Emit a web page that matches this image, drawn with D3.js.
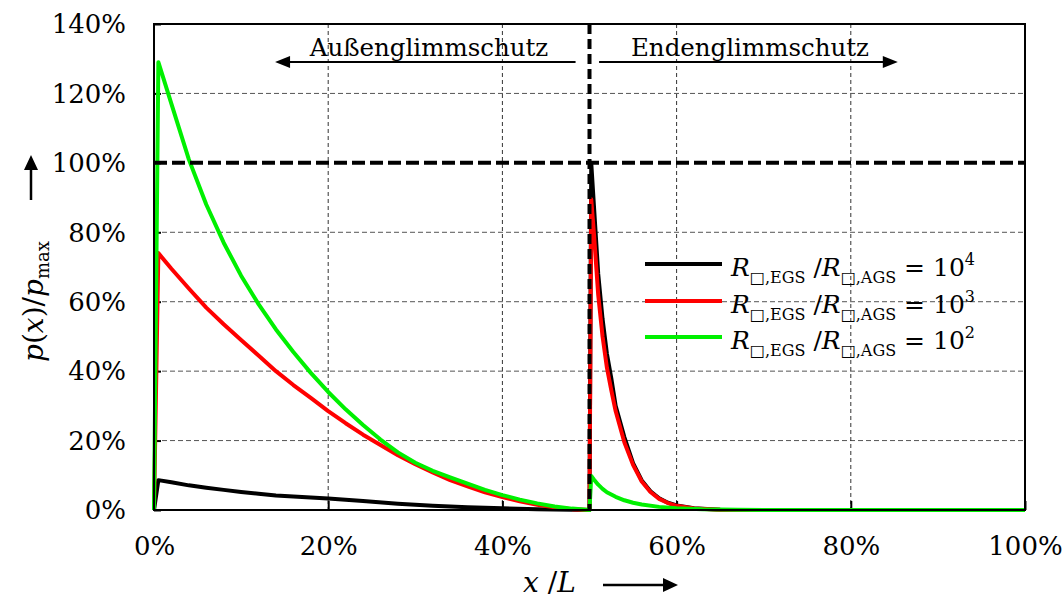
<!DOCTYPE html>
<html><head><meta charset="utf-8">
<script src="https://cdn.jsdelivr.net/npm/d3@7"></script>
<style>
html,body{margin:0;padding:0;background:#fff;}
svg text{font-family:"DejaVu Serif",serif;fill:#000;}
</style></head>
<body><svg id="c" width="1064" height="600"></svg>
<script>
// ---- data ----
const xTicks = [0, 20, 40, 60, 80, 100];
const yTicks = [0, 20, 40, 60, 80, 100, 120, 140];
const xTickLabels = ["0%", "20%", "40%", "60%", "80%", "100%"];
const yTickLabels = ["0%", "20%", "40%", "60%", "80%", "100%", "120%", "140%"];
const seriesNames = ["4", "3", "2"];
const seriesColors = ["#000000", "#ff0000", "#00f000"];
// x in %, p/pmax in %
const black = [[0,0],[0.5,8.6],[2,8],[4,7.1],[6,6.4],[8,5.8],[10,5.2],[12,4.7],[14,4.2],[16,3.9],[18,3.6],[20,3.3],[24,2.6],[28,1.8],[32,1.2],[36,0.8],[40,0.5],[44,0.25],[48,0.08],[50,0],
  [50.2,100],[50.5,88],[51,68],[51.5,55],[52,45],[52.5,38],[53,30],[54,21],[55,13.5],[56,8.5],[57,5.4],[58,3.4],[59,2.1],[60,1.3],[62,0.5],[65,0.1],[70,0],[100,0]];
const red = [[0,0],[0.5,74],[2,69.5],[4,63.8],[6,58.3],[8,53.5],[10,49],[12,44.5],[14,40],[16,36],[18,32.3],[20,28.5],[22,25],[24,21.7],[26,18.7],[28,15.8],[30,13.2],[32,10.8],[34,8.6],[36,6.8],[38,5.1],[40,3.7],[42,2.5],[44,1.5],[46,0.75],[48,0.25],[50,0],
  [50.2,89.5],[50.5,80],[51,62],[51.5,50],[52,41],[52.5,34.5],[53,28.5],[54,19.5],[55,13],[56,8.2],[57,5.2],[58,3.2],[59,2],[60,1.2],[62,0.45],[65,0.1],[70,0],[100,0]];
const green = [[0,0],[0.5,129],[2,117],[4,101],[6,88],[8,77],[10,67.5],[12,59.3],[14,52],[16,45.5],[18,39.5],[20,34],[22,29],[24,24.5],[26,20.3],[28,16.6],[30,13.6],[32,11.3],[34,9.4],[36,7.6],[38,5.8],[40,4.3],[42,3],[44,1.9],[46,1],[48,0.4],[50,0],
  [50.2,9.8],[50.5,8.8],[51,7.3],[51.5,6.1],[52,5.1],[53,3.8],[54,2.8],[55,2.1],[56,1.6],[58,0.9],[60,0.5],[63,0.2],[67,0.05],[70,0],[100,0]];
const series = [black, red, green];
const refX = 50, refY = 100;

// ---- layout ----
const svg = d3.select("#c");
const L = 154, R = 1025, T = 24, B = 510;
const x = d3.scaleLinear().domain([0, 100]).range([L, R]);
const y = d3.scaleLinear().domain([0, 140]).range([B, T]);

// grid
const g = svg.append("g");
g.selectAll(".gy").data(yTicks.filter(v => v > 0 && v < 140 && v !== refY)).enter().append("line")
  .attr("x1", L).attr("x2", R).attr("y1", d => y(d)).attr("y2", d => y(d))
  .attr("stroke", "#555").attr("stroke-width", 1).attr("stroke-dasharray", "5,3");
g.selectAll(".gx").data(xTicks.filter(v => v > 0 && v < 100)).enter().append("line")
  .attr("y1", T).attr("y2", B).attr("x1", d => x(d)).attr("x2", d => x(d))
  .attr("stroke", "#333").attr("stroke-width", 1).attr("stroke-dasharray", "4,3");

// ticks (inward)
const yAxis = d3.axisLeft(y).tickValues(yTicks).tickSize(-7).tickFormat((d, i) => yTickLabels[i]).tickPadding(28);
const xAxis = d3.axisBottom(x).tickValues(xTicks).tickSize(-9).tickFormat((d, i) => xTickLabels[i]).tickPadding(26);
const ya = svg.append("g").attr("transform", `translate(${L},0)`).call(yAxis);
const xa = svg.append("g").attr("transform", `translate(0,${B})`).call(xAxis);
[ya, xa].forEach(a => {
  a.attr("font-family", null).attr("font-size", null);
  a.select(".domain").remove();
  a.selectAll(".tick line").attr("stroke", "#000").attr("stroke-width", 2);
  a.selectAll("text").style("font-size", "26px").attr("fill", "#000");
});
ya.selectAll("text").attr("dy", "0.34em");
xa.selectAll("text").attr("dy", "0.72em");

// curves
const line = d3.line().x(d => x(d[0])).y(d => y(d[1]));
series.forEach((s, i) => {
  svg.append("path").datum(s).attr("d", line).attr("fill", "none")
    .attr("stroke", seriesColors[i]).attr("stroke-width", 4).attr("stroke-linejoin", "round");
});

// reference lines
svg.append("line").attr("x1", L).attr("x2", R).attr("y1", y(refY)).attr("y2", y(refY))
  .attr("stroke", "#000").attr("stroke-width", 4).attr("stroke-dasharray", "13,5");
svg.append("line").attr("x1", x(refX)).attr("x2", x(refX)).attr("y1", T).attr("y2", B)
  .attr("stroke", "#000").attr("stroke-width", 4).attr("stroke-dasharray", "10,5");

// frame
svg.append("rect").attr("x", L).attr("y", T).attr("width", R - L).attr("height", B - T)
  .attr("fill", "none").attr("stroke", "#000").attr("stroke-width", 2);

// region annotations
const ay = 62;
svg.append("line").attr("x1", x(48.4)).attr("x2", x(15)).attr("y1", ay).attr("y2", ay).attr("stroke", "#000").attr("stroke-width", 2);
svg.append("path").attr("d", `M${x(13.9)},${ay} l15,-6 l0,12 z`).attr("fill", "#000");
svg.append("line").attr("x1", x(51.1)).attr("x2", x(84.5)).attr("y1", ay).attr("y2", ay).attr("stroke", "#000").attr("stroke-width", 2);
svg.append("path").attr("d", `M${x(85.4)},${ay} l-15,-6 l0,12 z`).attr("fill", "#000");
svg.append("text").attr("x", 429).attr("y", 56).attr("text-anchor", "middle").style("font-size", "24.5px").text("Außenglimmschutz");
svg.append("text").attr("x", 750).attr("y", 56).attr("text-anchor", "middle").style("font-size", "24.5px").text("Endenglimmschutz");

// legend
const lg = svg.append("g");
const ly = [264, 301, 337];
seriesNames.forEach((n, i) => {
  lg.append("line").attr("x1", 645).attr("x2", 722).attr("y1", ly[i]).attr("y2", ly[i])
    .attr("stroke", seriesColors[i]).attr("stroke-width", 4);
  const t = lg.append("text").attr("x", 731).attr("y", ly[i] + 12).style("font-size", "25px");
  t.append("tspan").style("font-style", "italic").text("R");
  t.append("tspan").style("font-size", "16px").attr("dy", 7).text("□,EGS");
  t.append("tspan").attr("dy", -7).text(" /");
  t.append("tspan").style("font-style", "italic").text("R");
  t.append("tspan").style("font-size", "16px").attr("dy", 7).text("□,AGS");
  t.append("tspan").attr("dy", -7).text(" = 10");
  t.append("tspan").style("font-size", "16px").attr("dy", -11).text(n);
});

// x axis title
const xt = svg.append("text").attr("x", 523).attr("y", 592).style("font-size", "28px");
xt.append("tspan").style("font-style", "italic").text("x");
xt.append("tspan").text(" /");
xt.append("tspan").style("font-style", "italic").text("L");
svg.append("line").attr("x1", 603).attr("x2", 664).attr("y1", 585).attr("y2", 585).attr("stroke", "#000").attr("stroke-width", 2.5);
svg.append("path").attr("d", `M678,585 l-15,-7 l0,14 z`).attr("fill", "#000");

// y axis title
const yt = svg.append("text").attr("transform", "translate(43,362) rotate(-90)").style("font-size", "28px");
yt.append("tspan").style("font-style", "italic").text("p");
yt.append("tspan").text("(");
yt.append("tspan").style("font-style", "italic").text("x");
yt.append("tspan").text(")/");
yt.append("tspan").style("font-style", "italic").text("p");
yt.append("tspan").style("font-size", "18px").attr("dy", 6).text("max");
svg.append("line").attr("x1", 31).attr("x2", 31).attr("y1", 200).attr("y2", 170).attr("stroke", "#000").attr("stroke-width", 2.5);
svg.append("path").attr("d", `M31,155 l-7,15 l14,0 z`).attr("fill", "#000");
</script></body></html>
